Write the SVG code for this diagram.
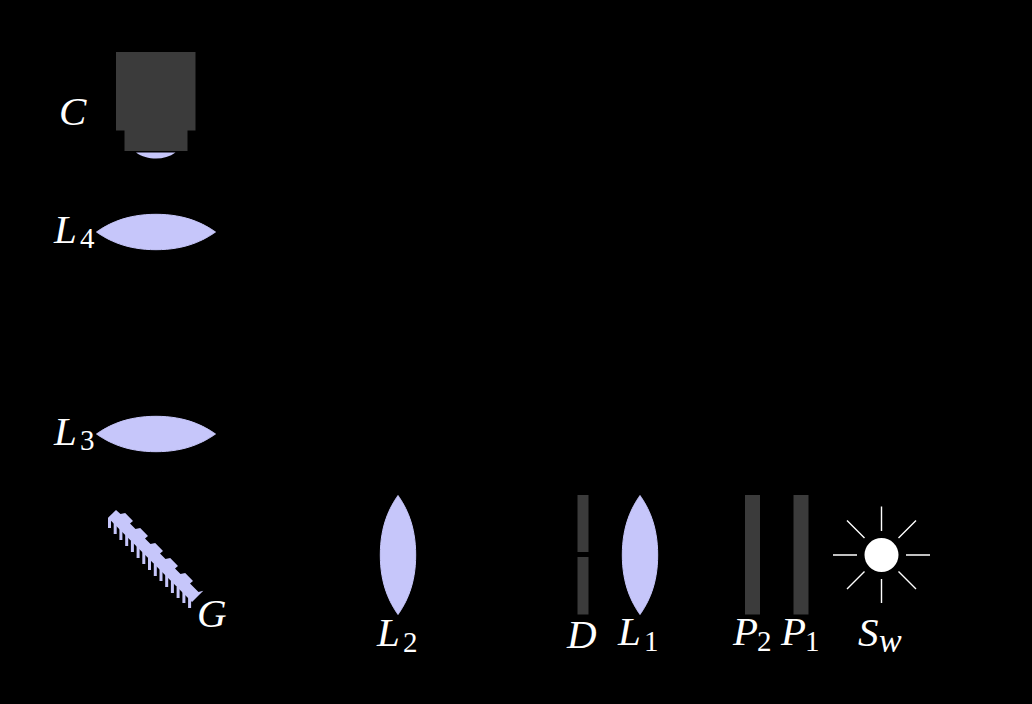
<svg xmlns="http://www.w3.org/2000/svg" width="1032" height="704" viewBox="0 0 1032 704">
<style>
.lens{fill:#c6c6fa}
.dark{fill:#3b3b3b}
.ray{stroke:#fff;stroke-width:1.4;fill:none}
.lbl{font-family:"Liberation Serif","Times New Roman",serif;font-size:41px;font-style:italic;fill:#fff}
.sub{font-family:"Liberation Serif","Times New Roman",serif;font-size:29px;font-style:normal;fill:#fff}
.subi{font-family:"Liberation Serif","Times New Roman",serif;font-size:34px;font-style:italic;fill:#fff}
</style>
<defs>
<path id="hlens" d="M-59.500,0 C-48,-8 -30,-17.700 0,-17.700 C30,-17.700 48,-8 59.500,0 C48,8 30,17.700 0,17.700 C-30,17.700 -48,8 -59.500,0Z" stroke="#c6c6fa" stroke-width="1" stroke-linejoin="round"/>
</defs>
<rect width="1032" height="704" fill="#000"/>
<g id="camera">
<path class="dark" d="M116,52H195.500V130.500H187.500V151H124.500V130.500H116Z"/>
<path class="lens" d="M136,152.500H175.500C170,156.500 163,158.500 156,158.500C149,158.500 141.500,156.500 136,152.500Z"/>
<text class="lbl" x="59" y="125">C</text>
</g>
<g id="L4">
<use href="#hlens" class="lens" x="156" y="232"/>
<text class="lbl" x="54" y="243">L</text><text class="sub" x="80" y="248">4</text>
</g>
<g id="L3">
<use href="#hlens" class="lens" x="156" y="434"/>
<text class="lbl" x="54" y="445">L</text><text class="sub" x="80" y="450">3</text>
</g>
<g id="G">
<path class="lens" d="M108,517.700L116,510L120.500,514L125.200,513L133,521L130,523.500L135.500,529L140.200,528L148,536L145,538.500L150.500,544L155.200,543L163,551L160,553.500L165.500,559L170.200,558L178,566L175,568.500L180.500,574L185.200,573L193,581L190,583.500L198.500,592L203.300,590.700L192,602Z"/>
<path class="lens" d="M108,518h3v10h-3zM113.700,523h3v11h-3zM119.400,529h3v11h-3zM125.200,535h3v11h-3zM130.900,541h3v11h-3zM136.600,546h3v12h-3zM142.300,552h3v12h-3zM148,558h3v12h-3zM153.800,564h3v12h-3zM159.500,569h3v12h-3zM165.200,575h3v12h-3zM170.900,581h3v12h-3zM176.600,587h3v11h-3zM182.400,592h3v11h-3zM188.100,597h3v11h-3z"/>
<text class="lbl" x="197" y="627">G</text>
</g>
<g id="L2">
<use href="#hlens" class="lens" transform="translate(398,555) rotate(90)"/>
<text class="lbl" x="377" y="646">L</text><text class="sub" x="403" y="652">2</text>
</g>
<g id="D">
<rect class="dark" x="577.500" y="495" width="11" height="57"/>
<rect class="dark" x="577.500" y="557" width="11" height="57.500"/>
<text class="lbl" x="567" y="648">D</text>
</g>
<g id="L1">
<use href="#hlens" class="lens" transform="translate(640,555) rotate(90)"/>
<text class="lbl" x="618" y="645">L</text><text class="sub" x="644" y="651">1</text>
</g>
<g id="P2">
<rect class="dark" x="745" y="495" width="15" height="119.500"/>
<text class="lbl" x="733" y="645">P</text><text class="sub" x="757" y="651">2</text>
</g>
<g id="P1">
<rect class="dark" x="793.500" y="495" width="15" height="119.500"/>
<text class="lbl" x="781" y="645">P</text><text class="sub" x="805" y="651">1</text>
</g>
<g id="Sw">
<circle cx="881.500" cy="555" r="17" fill="#fff"/>
<path class="ray" d="M833,555H857M906,555H930M881.500,506.500V531M881.500,579V603M847,520.500L864.500,538M916,520.500L898.500,538M847,589L864.500,571.500M916,589L898.500,571.500"/>
<text class="lbl" x="858" y="646">S</text><text class="subi" x="879" y="652">w</text>
</g>
</svg>
